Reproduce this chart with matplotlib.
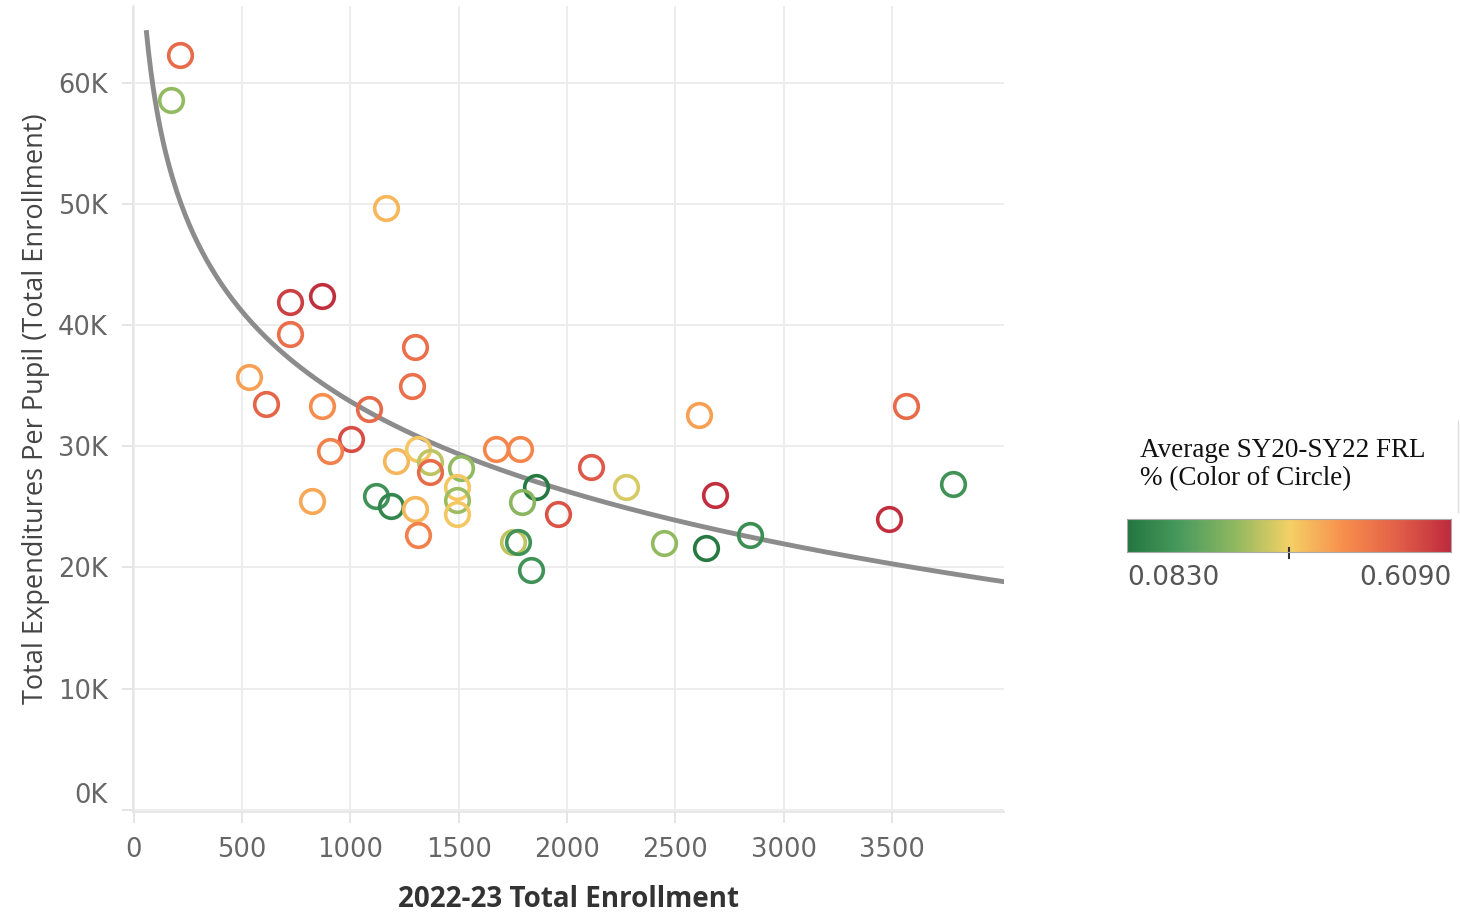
import matplotlib.pyplot as plt
import matplotlib.transforms as mtransforms
import numpy as np
from matplotlib.colors import LinearSegmentedColormap, Normalize

# enrollment, expenditure per pupil (K), average FRL share
enrollment = [212, 171, 1164, 720, 868, 720, 1298, 531, 1284, 610,
              868, 1085, 1002, 905, 1210, 1312, 1367, 1367, 1510, 1672,
              1783, 2111, 2610, 3566, 3783, 2684, 3487, 2272, 1857, 1792,
              1958, 822, 1118, 1187, 1298, 1492, 1492, 1492, 1312, 1750,
              1774, 1834, 2448, 2642, 2845]
expend_k = [62.3, 58.6, 49.7, 41.9, 42.4, 39.3, 38.2, 35.7, 35.0, 33.5,
            33.3, 33.1, 30.6, 29.6, 28.8, 29.8, 28.7, 27.9, 28.2, 29.8,
            29.8, 28.3, 32.6, 33.3, 26.9, 26.0, 24.0, 26.6, 26.6, 25.4,
            24.4, 25.5, 25.9, 25.1, 24.8, 26.6, 25.6, 24.4, 22.7, 22.1,
            22.1, 19.8, 22.0, 21.6, 22.7]
frl = [0.50, 0.26, 0.38, 0.57, 0.60, 0.49, 0.49, 0.41, 0.49, 0.51,
       0.44, 0.50, 0.55, 0.46, 0.38, 0.36, 0.30, 0.50, 0.26, 0.45,
       0.45, 0.53, 0.41, 0.50, 0.15, 0.60, 0.60, 0.32, 0.09, 0.25,
       0.54, 0.40, 0.15, 0.12, 0.38, 0.36, 0.27, 0.36, 0.46, 0.30,
       0.15, 0.15, 0.26, 0.09, 0.14]
frl_min, frl_max = 0.0830, 0.6090

palette = ['#22763f', '#4b9b5f', '#90b960', '#f4d166', '#f88f4d', '#e25f48', '#be2a3e']
cmap = LinearSegmentedColormap.from_list('rgg', palette)
norm = Normalize(frl_min, frl_max)

x = np.array(enrollment)
y = np.array(expend_k) * 1000

fig = plt.figure(figsize=(14.6, 9.15), dpi=100)
ax = fig.add_axes([0.091, 0.113, 0.597, 0.880])

# logarithmic trend line
b, a = np.polyfit(np.log(x), y, 1)
xt = np.linspace(58, 4020, 400)
ax.plot(xt, a + b * np.log(xt), color='#8c8c8c', lw=3.5, zorder=3)

for xi, yi, fi in zip(x, y, frl):
    ax.plot(xi, yi, 'o', ms=17, mfc='none', mec=cmap(norm(fi)), mew=2.6, zorder=4)

ax.set_xlim(-5, 4020)
ax.set_ylim(-150, 66300)
ax.set_xticks(range(0, 4000, 500))
ax.set_yticks(range(0, 70000, 10000))
ax.set_yticklabels([f'{v}K' for v in range(0, 70, 10)])
ax.grid(color='#ececec', lw=1.3)
ax.set_axisbelow(True)
for s in ['top', 'right']:
    ax.spines[s].set_visible(False)
for s in ['left', 'bottom']:
    ax.spines[s].set_color('#e6e6e6')
    ax.spines[s].set_linewidth(1.3)
ax.tick_params(colors='#e0e0e0', labelcolor='#666666', labelsize=18.5, length=8, width=1.2, pad=10)
# lift the 0K label above the axis edge
zero_lbl = ax.get_yticklabels()[0]
zero_lbl.set_transform(zero_lbl.get_transform() +
                       mtransforms.ScaledTranslation(0, 0.17, fig.dpi_scale_trans))
ax.set_xlabel('2022-23 Total Enrollment', fontsize=20, color='#333333', fontweight='bold',
              family='Open Sans', labelpad=16)
ax.set_ylabel('Total Expenditures Per Pupil (Total Enrollment)', fontsize=19.5, color='#444444',
              family='Open Sans', labelpad=6)

# colour legend
fig.text(0.781, 0.492, 'Average SY20-SY22 FRL\n% (Color of Circle)', family='Liberation Serif',
         fontsize=19.5, color='#111111', va='center', ha='left', linespacing=1.15)
cax = fig.add_axes([0.772, 0.397, 0.222, 0.036])
grad = np.linspace(frl_min, frl_max, 256).reshape(1, -1)
cax.imshow(grad, aspect='auto', cmap=cmap, norm=norm, extent=[frl_min, frl_max, 0, 1])
cax.plot([(frl_min + frl_max) / 2] * 2, [-0.2, 0.1], color='#333333', lw=1.5, clip_on=False)
cax.set_xlim(frl_min, frl_max)
cax.set_ylim(0, 1)
cax.set_xticks([])
cax.set_yticks([])
for s in cax.spines.values():
    s.set_color('#aaaaaa')
fig.text(0.772, 0.368, '0.0830', fontsize=19, color='#555555', ha='left', va='center')
fig.text(0.994, 0.368, '0.6090', fontsize=19, color='#555555', ha='right', va='center')
fig.add_artist(plt.Line2D([0.9985, 0.9985], [0.44, 0.54], color='#dddddd', lw=1))

plt.savefig('out.png')
